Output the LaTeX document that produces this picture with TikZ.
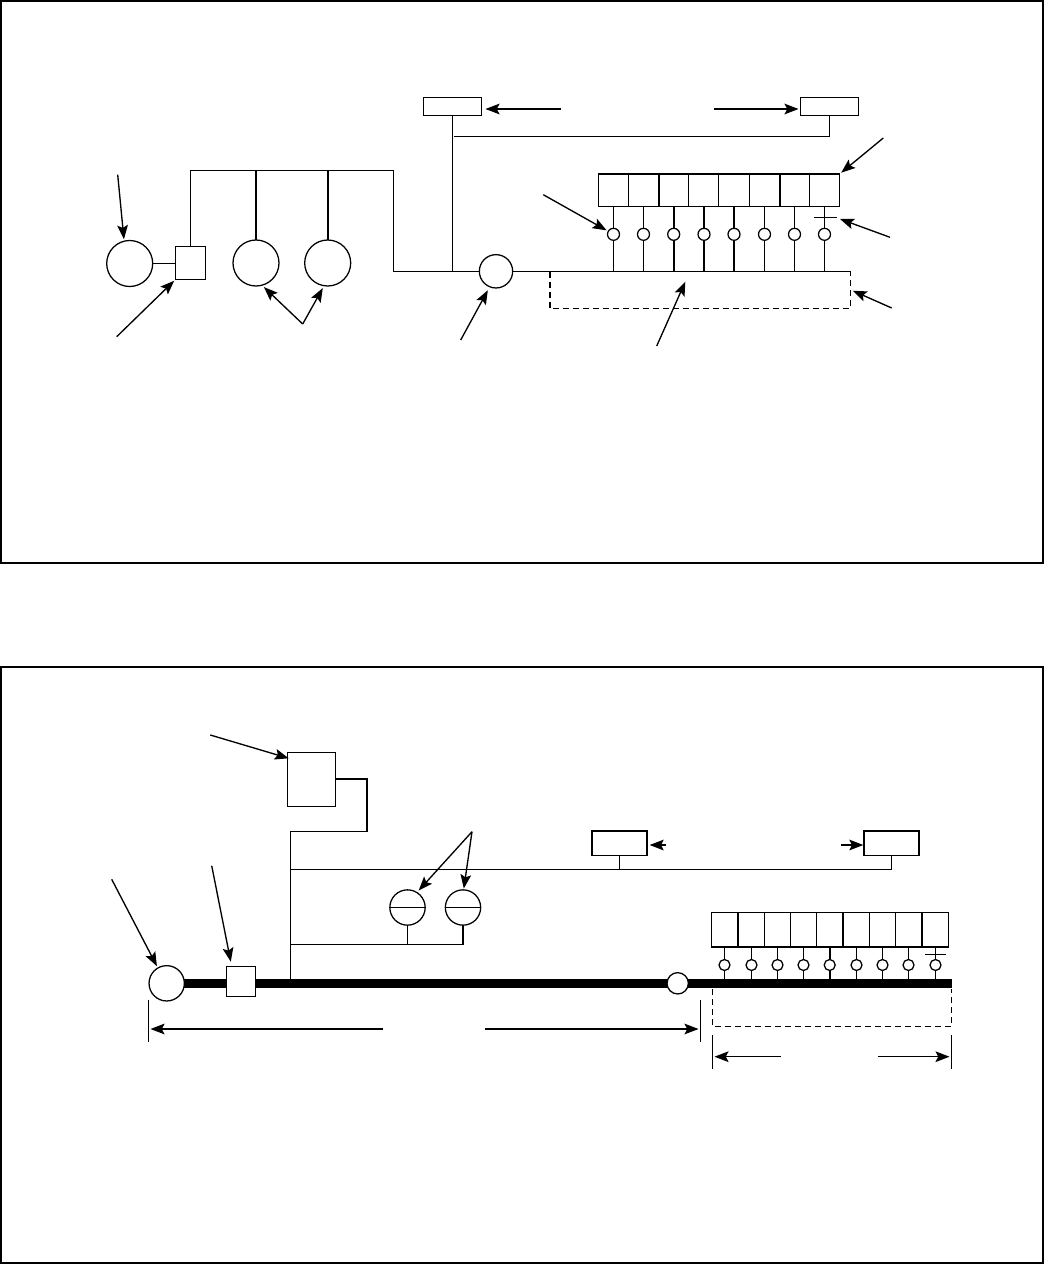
\documentclass[tikz,border=0pt]{standalone}
\usetikzlibrary{arrows.meta,calc}
\tikzset{
  base/.style={draw=black,line width=0.95pt,fill=white,inner sep=0pt,outer sep=0pt},
  ring/.style={base,circle,minimum size=#1},
  box/.style n args={2}{base,rectangle,minimum width=#1,minimum height=#2},
  wire/.style={line width=0.95pt,black},
  heavy/.style={line width=1.6pt,black},
  mainbar/.style={line width=7.3pt,black},
  pointer/.style={line width=1pt,black,-{Stealth[length=10.5pt,width=8pt,inset=2pt]},shorten >=1.5pt},
  dimend/.style={line width=0.95pt,black},
  hidden/.style={line width=0.95pt,black,dash pattern=on 4.5pt off 3pt},
}
\begin{document}
\begin{tikzpicture}[x=0.75pt,y=-0.75pt]
\useasboundingbox (0,0) rectangle (1044,1264);
\node[box={781.5pt}{421.5pt},line width=1.2pt,fill=none] (frameA) at (522,282) {};
\node[box={781.5pt}{447pt},line width=1.2pt,fill=none] (frameB) at (522,965) {};

% ---------- upper figure ----------
\coordinate (busA) at (393.5,271.5);
\coordinate (busAend) at (850.5,271.5);
\coordinate (riseA) at (393.5,170.5);
\coordinate (riseB) at (190.5,170.5);
\coordinate (ctrlRun) at (454.3,136.5);
\draw[wire] (busA) -- (busAend);
\node[ring=34.5pt] (gen) at (129.7,263.5) {};
\node[box={22.3pt}{24.5pt}] (breaker) at (190.5,263) {};
\node[ring=34.5pt] (loadL) at (256,263) {};
\node[ring=34.5pt] (loadR) at (327.7,263) {};
\node[ring=25pt] (mid) at (496,271.3) {};
\node[box={43.5pt}{13.5pt}] (panelL) at (452.5,106.3) {};
\node[box={43.5pt}{13.5pt}] (panelR) at (829.5,106.3) {};
\draw[wire] (gen.east) -- (gen.east -| breaker.west);
\draw[wire] (breaker.north) -- (riseB) -- (riseA) -- (busA);
\draw[heavy] (loadL.north) -- (loadL.north |- riseB);
\draw[heavy] (loadR.north) -- (loadR.north |- riseB);
\draw[wire] (panelL.south) -- (panelL.south |- busA);
\draw[wire] (ctrlRun) -- (ctrlRun -| panelR.south) -- (panelR.south);

\foreach \i/\x/\s in {1/613.5/wire,2/643.5/wire,3/673.7/heavy,4/704/heavy,5/734/heavy,6/764.5/wire,7/794.5/wire,8/824.5/wire}{
  \node[box={22.73pt}{24.5pt}] (cellA\i) at (\x,190.3) {};
  \node[ring=9pt] (tapA\i) at (\x,234.3) {};
  \draw[\s] (cellA\i.south) -- (tapA\i.north);
  \draw[\s] (tapA\i.south) -- (tapA\i.south |- busA);
}
\draw[heavy] (cellA1.north west) -- (cellA8.north east);
\foreach \i in {2,6}{\draw[heavy] (cellA\i.north east) -- (cellA\i.south east);}
\coordinate (dashA) at (550,271.5);
\coordinate (dashB) at (550,308.5);
\coordinate (dashC) at (850.5,308.5);
\draw[hidden] (dashA) -- (dashB) -- (dashC) -- (busAend);
\coordinate (tickAl) at (814.3,217.5);
\coordinate (tickAr) at (836.7,217.5);
\draw[wire] (tickAl) -- (tickAr);

\coordinate (p1) at (117.7,174.7);
\coordinate (p2) at (116.7,336.7);
\coordinate (p3) at (302.7,324);
\coordinate (p4) at (460.7,340);
\coordinate (p5) at (561,109);
\coordinate (p6) at (714.3,109);
\coordinate (p7) at (883.3,138);
\coordinate (p8) at (543.3,194.7);
\coordinate (p9) at (890,237.3);
\coordinate (p10) at (891.7,308);
\coordinate (p11) at (656.7,346);
\coordinate (t9) at (840,219);
\coordinate (t10) at (852.7,290.7);
\coordinate (t11) at (685.3,281.7);
\draw[pointer] (p1) -- (gen.104);
\draw[pointer] (p2) -- (breaker.south west);
\draw[pointer,shorten >=2pt] (p3) -- (loadL.-75);
\draw[pointer,shorten >=2pt] (p3) -- (loadR.-99);
\draw[pointer,shorten >=3pt] (p4) -- (mid.-112);
\draw[pointer,shorten >=3pt] (p5) -- (p5 -| panelL.east);
\draw[pointer] (p6) -- (p6 -| panelR.west);
\draw[pointer] (p7) -- (cellA8.north east);
\draw[pointer] (p8) -- (tapA1.150);
\draw[pointer,shorten >=0pt] (p9) -- (t9);
\draw[pointer,shorten >=0pt] (p10) -- (t10);
\draw[pointer,shorten >=0pt] (p11) -- (t11);

% ---------- lower figure ----------
\coordinate (busB) at (166.7,983.5);
\coordinate (busBend) at (951.7,983.5);
\draw[mainbar] (busB) -- (busBend);
\node[ring=26.5pt] (gen2) at (166.7,983.3) {};
\node[box={21.75pt}{22.5pt}] (breaker2) at (241.2,981.3) {};
\node[ring=16pt] (mid2) at (677.7,983.3) {};
\node[box={36pt}{40.5pt}] (unit) at (311.3,779.3) {};
\node[box={41.25pt}{18.2pt}] (panelL2) at (619.5,843) {};
\node[box={41.25pt}{18.2pt}] (panelR2) at (891.5,843) {};
\node[ring=26.5pt] (meterL) at (407.5,907.5) {};
\node[ring=26.5pt] (meterR) at (463,907.5) {};
\draw[wire] (meterL.west) -- (meterL.east);
\draw[wire] (meterR.west) -- (meterR.east);
\coordinate (riseC) at (290.5,831.5);
\coordinate (riseD) at (367,831.5);
\coordinate (riseE) at (367,779);
\coordinate (riseF) at (335.3,779);
\coordinate (riseG) at (290.5,979);
\coordinate (runC) at (290.5,869.5);
\coordinate (runD) at (290.5,944.5);
\draw[heavy] (riseF) -- (riseE) -- (riseD);
\draw[wire] (riseD) -- (riseC) -- (riseG);
\draw[wire] (runC) -- (runC -| panelR2.south) -- (panelR2.south);
\draw[wire] (panelL2.south) -- (panelL2.south |- runC);
\draw[wire] (meterL.south) -- (meterL.south |- runD);
\draw[heavy] (meterR.south) -- (meterR.south |- runD);
\draw[wire] (runD) -- (runD -| meterR.south);

\foreach \i/\x/\s in {1/724.5/wire,2/751.5/wire,3/777.5/wire,4/803.5/wire,5/829.7/heavy,6/856.5/wire,7/882.5/wire,8/908.5/wire,9/935.5/wire}{
  \node[box={19.83pt}{26pt}] (cellB\i) at (\x,929.6) {};
  \node[ring=8.25pt] (tapB\i) at (\x,965) {};
  \draw[\s] (cellB\i.south) -- (tapB\i.north);
  \draw[\s] (tapB\i.south) -- (tapB\i.south |- busB);
}
\draw[heavy] (cellB1.south west) -- (cellB9.south east);
\draw[heavy] (cellB1.north east) -- (cellB1.south east);
\coordinate (dashD) at (712.5,989);
\coordinate (dashE) at (712.5,1026.5);
\coordinate (dashF) at (951.5,1026.5);
\coordinate (dashG) at (951.5,989);
\draw[hidden] (dashD) -- (dashE) -- (dashF) -- (dashG);
\coordinate (tickBl) at (925.3,954.5);
\coordinate (tickBr) at (946,954.5);
\draw[wire] (tickBl) -- (tickBr);

\coordinate (q1) at (210.3,735);
\coordinate (q2) at (472,831.7);
\coordinate (q3) at (111.7,879.3);
\coordinate (q4) at (211.7,865.7);
\coordinate (q5) at (666,845);
\coordinate (q6) at (841,845);
\coordinate (t1) at (288.7,758.3);
\draw[pointer,shorten >=0pt] (q1) -- (t1);
\draw[pointer,shorten >=2pt] (q2) -- (meterL.58);
\draw[pointer,shorten >=1pt] (q2) -- (meterR.88);
\draw[pointer] (q3) -- (gen2.120);
\draw[pointer,shorten >=3.5pt] (q4) -- (breaker2.north -| 231.7,0);
\draw[pointer,shorten >=2pt] (q5) -- (q5 -| panelL2.east);
\draw[pointer,shorten >=0.5pt] (q6) -- (q6 -| panelR2.west);

% dimension lines
\coordinate (d1a) at (148.5,1000);
\coordinate (d1b) at (148.5,1041.7);
\coordinate (d2a) at (700.5,1000);
\coordinate (d2b) at (700.5,1041.7);
\coordinate (d3a) at (712.5,1035);
\coordinate (d3b) at (712.5,1069.3);
\coordinate (d4a) at (951.5,1035);
\coordinate (d4b) at (951.5,1069.3);
\draw[dimend] (d1a) -- (d1b);
\draw[dimend] (d2a) -- (d2b);
\draw[dimend] (d3a) -- (d3b);
\draw[dimend] (d4a) -- (d4b);
\coordinate (s1) at (383.3,1029);
\coordinate (s2) at (485,1029);
\coordinate (s3) at (780.7,1056.7);
\coordinate (s4) at (878,1056.7);
\draw[pointer] (s1) -- (s1 -| d1a);
\draw[pointer] (s2) -- (s2 -| d2a);
\draw[pointer] (s3) -- (s3 -| d3a);
\draw[pointer] (s4) -- (s4 -| d4a);
\end{tikzpicture}
\end{document}
